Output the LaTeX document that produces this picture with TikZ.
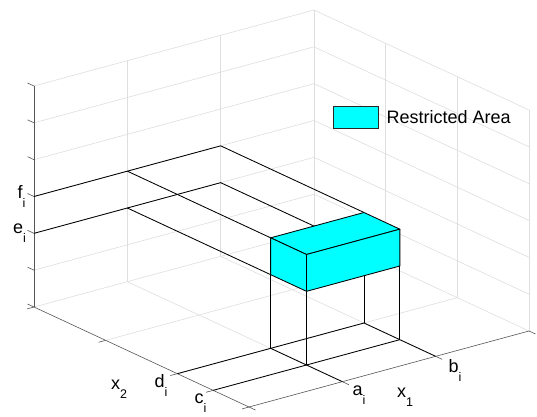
\documentclass[tikz,border=0pt]{standalone}
\usepackage{fontspec}
\setmainfont{Liberation Sans}
\newcommand\subl[1]{\raisebox{-9.5pt}{\fontsize{12.5}{13}\selectfont #1}}
\begin{document}
\begin{tikzpicture}[x=1pt,y=1pt,
  gridline/.style={draw={rgb,255:red,222;green,222;blue,222}, line width=0.6pt},
  axisline/.style={draw={rgb,255:red,85;green,85;blue,85}, line width=0.6pt},
  proj/.style={draw=black, line width=0.85pt},
  face/.style={fill={rgb,255:red,0;green,255;blue,255}, draw=black, line width=0.85pt, line join=round},
  lbl/.style={inner sep=0pt, anchor=base west, font=\fontsize{18}{20}\selectfont}]
\useasboundingbox (0,0) rectangle (537,416);
\begin{scope}[shift={(314,185)}, x={(-280pt,-76pt)}, y={(215pt,-100pt)}, z={(0pt,221pt)}]
  % grid: left wall (r=0)
  \foreach \k in {0,...,6} \draw[gridline] (0,0,\k/6) -- (1,0,\k/6);
  \foreach \s in {0,1/3,2/3} \draw[gridline] (\s,0,0) -- (\s,0,1);
  % grid: right wall (s=0)
  \foreach \k in {0,...,6} \draw[gridline] (0,0,\k/6) -- (0,1,\k/6);
  \foreach \r in {1/3,2/3,1} \draw[gridline] (0,\r,0) -- (0,\r,1);
  % grid: floor
  \foreach \r in {1/3,2/3} \draw[gridline] (0,\r,0) -- (1,\r,0);
  \foreach \s in {1/3,2/3} \draw[gridline] (\s,0,0) -- (\s,1,0);
  % axes
  \coordinate (L0) at (1,0,0);
  \coordinate (L1) at (1,0,1);
  \coordinate (F0) at (1,1,0);
  \coordinate (R0) at (0,1,0);
  \draw[axisline] (L0) -- (L1);
  \draw[axisline] (L0) -- (F0);
  \draw[axisline] (F0) -- (R0);
  \foreach \k in {0,...,6} \draw[axisline] (1,0,\k/6) -- (1,-0.03,\k/6);
  \foreach \r in {0,1/3,2/3,5/6,1} \draw[axisline] (1,\r,0) -- (1.025,\r,0);
  \foreach \s in {0,1/3,2/3,1} \draw[axisline] (\s,1,0) -- (\s,1.03,0);
  % key points
  \coordinate (Wf1) at (1,0,1/2);
  \coordinate (Wf3) at (1/3,0,1/2);
  \coordinate (Wf2) at (2/3,0,1/2);
  \coordinate (We1) at (1,0,1/3);
  \coordinate (We3) at (1/3,0,1/3);
  \coordinate (We2) at (2/3,0,1/3);
  \coordinate (A) at (2/3,2/3,1/2);
  \coordinate (B) at (2/3,5/6,1/2);
  \coordinate (C) at (1/3,5/6,1/2);
  \coordinate (D) at (1/3,2/3,1/2);
  \coordinate (Ab) at (2/3,2/3,1/3);
  \coordinate (Bb) at (2/3,5/6,1/3);
  \coordinate (Cb) at (1/3,5/6,1/3);
  \coordinate (Db) at (1/3,2/3,1/3);
  \coordinate (Af) at (2/3,2/3,0);
  \coordinate (Bf) at (2/3,5/6,0);
  \coordinate (Cf) at (1/3,5/6,0);
  \coordinate (Df) at (1/3,2/3,0);
  \coordinate (Td) at (1,2/3,0);
  \coordinate (Tc) at (1,5/6,0);
  \coordinate (Ta) at (2/3,1,0);
  \coordinate (Tb) at (1/3,1,0);
  % projection lines
  \draw[proj] (Wf1) -- (Wf3) -- (D);
  \draw[proj] (We1) -- (We3) -- (Db);
  \draw[proj] (Wf2) -- (A);
  \draw[proj] (We2) -- (Ab);
  \draw[proj] (Td) -- (Df);
  \draw[proj] (Tc) -- (Cf);
  \draw[proj] (Af) -- (Ta);
  \draw[proj] (Df) -- (Tb);
  \draw[proj] (Af) -- (Ab);
  \draw[proj] (Bf) -- (Bb);
  \draw[proj] (Cf) -- (Cb);
  \draw[proj] (Df) -- (Db);
  % restricted box
  \draw[face] (A) -- (B) -- (C) -- (D) -- cycle;
  \draw[face] (A) -- (B) -- (Bb) -- (Ab) -- cycle;
  \draw[face] (B) -- (C) -- (Cb) -- (Bb) -- cycle;
\end{scope}
% labels
\node[lbl] (fi) at (17.5,218) {f\subl{i}};
\node[lbl] (ei) at (13,183) {e\subl{i}};
\node[lbl] (x2) at (111,27) {x\subl{2}};
\node[lbl] (di) at (154.5,29) {d\subl{i}};
\node[lbl] (ci) at (194.5,13) {c\subl{i}};
\node[lbl] (ai) at (352.5,21) {a\subl{i}};
\node[lbl] (x1) at (397,19) {x\subl{1}};
\node[lbl] (bi) at (448.5,44) {b\subl{i}};
% legend
\draw[fill={rgb,255:red,0;green,255;blue,255}, draw={rgb,255:red,38;green,38;blue,38}, line width=0.8pt] (333,288) rectangle (378,310);
\node[lbl] (leg) at (386.5,293) {Restricted Area};
\end{tikzpicture}
\end{document}
